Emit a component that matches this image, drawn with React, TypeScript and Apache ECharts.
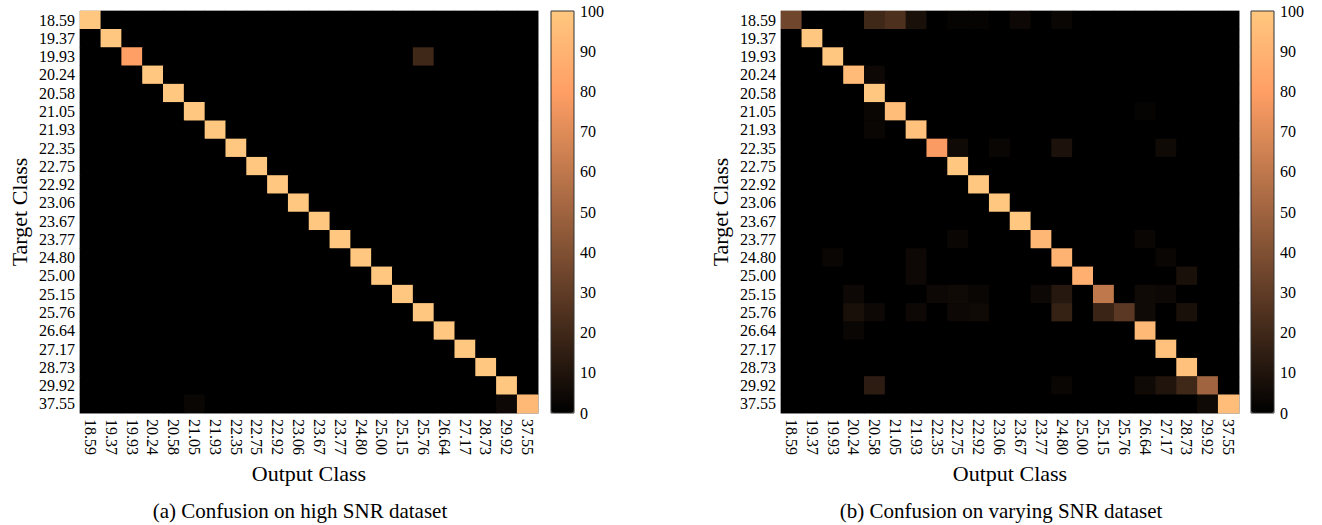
import React, { useEffect, useRef } from "react";
import * as echarts from "echarts";

const classes = [
  "18.59", "19.37", "19.93", "20.24", "20.58", "21.05", "21.93", "22.35", "22.75", "22.92", "23.06",
  "23.67", "23.77", "24.80", "25.00", "25.15", "25.76", "26.64", "27.17", "28.73", "29.92", "37.55",
];

// (a) high SNR: diagonal values and off-diagonal [row, col, value]
const highDiag = [100, 100, 80, 100, 100, 100, 100, 100, 100, 100, 100, 100, 100, 100, 100, 100, 100, 100, 100, 100, 100, 93];
const highOff: [number, number, number][] = [
  [2, 16, 20],
  [21, 5, 3],
  [21, 20, 4],
];

// (b) varying SNR
const varyDiag = [35, 100, 100, 94, 100, 95, 97, 78, 100, 100, 100, 100, 92, 90, 88, 60, 28, 93, 97, 97, 50, 95];
const varyOff: [number, number, number][] = [
  [0, 4, 20], [0, 5, 24], [0, 6, 8], [0, 8, 2], [0, 9, 2], [0, 11, 4], [0, 13, 3],
  [3, 4, 4],
  [5, 4, 3], [5, 17, 2],
  [6, 4, 3],
  [7, 8, 5], [7, 10, 3], [7, 13, 9], [7, 18, 5],
  [12, 8, 3], [12, 17, 3],
  [13, 2, 3], [13, 6, 4], [13, 18, 3],
  [14, 6, 4], [14, 19, 8],
  [15, 3, 4], [15, 7, 4], [15, 8, 5], [15, 9, 3], [15, 12, 4], [15, 13, 12], [15, 17, 5], [15, 18, 4],
  [16, 3, 8], [16, 4, 4], [16, 6, 4], [16, 8, 4], [16, 9, 5], [16, 13, 17], [16, 15, 18], [16, 17, 5], [16, 19, 8],
  [17, 3, 3],
  [20, 4, 14], [20, 13, 3], [20, 17, 5], [20, 18, 10], [20, 19, 20],
  [21, 20, 5],
];

const colorMin = 0;
const colorMax = 100;
const colorStep = 10;

// copper colormap stops (evenly spaced 0..1)
const copper = ["#000000", "#402819", "#805033", "#bf784c", "#ff9f65", "#ffc77f"];

const captions = ["(a) Confusion on high SNR dataset", "(b) Confusion on varying SNR dataset"];

function buildMatrix(diag: number[], off: [number, number, number][]) {
  const n = classes.length;
  const out: number[][] = [];
  for (let r = 0; r < n; r++) for (let c = 0; c < n; c++) out.push([c, r, r === c ? diag[r] : 0]);
  off.forEach(([r, c, v]) => {
    out[r * n + c][2] = v;
  });
  return out;
}

const FONT = "Liberation Serif";
const TICK = "#9c5a24";
const FRAME = "#b4b4b4";

export default function App() {
  const ref = useRef<HTMLDivElement>(null);
  useEffect(() => {
    if (!ref.current) return;
    const chart = echarts.init(ref.current, null, { renderer: "svg" });
    const G = [
      { left: 80, top: 11, width: 458, height: 402, show: true, backgroundColor: "#000", borderColor: FRAME, borderWidth: 1 },
      { left: 781, top: 11, width: 458, height: 402, show: true, backgroundColor: "#000", borderColor: FRAME, borderWidth: 1 },
    ];
    const CB = [
      { left: 551, top: 11, width: 23, height: 402 },
      { left: 1251, top: 11, width: 23, height: 402 },
    ];
    const xAxes: any[] = [];
    const yAxes: any[] = [];
    G.forEach((_, gi) => {
      xAxes.push({
        type: "category", gridIndex: gi, data: classes, position: "bottom",
        axisLine: { show: true, lineStyle: { color: FRAME, width: 1 } },
        axisTick: { show: true, inside: true, alignWithLabel: true, length: 5, lineStyle: { color: TICK } },
        axisLabel: { rotate: -90, fontFamily: FONT, fontSize: 16, color: "#000", margin: 6, interval: 0 },
        splitLine: { show: false },
        name: "Output Class", nameLocation: "middle", nameGap: 49,
        nameTextStyle: { fontFamily: FONT, fontSize: 22, color: "#000" },
      });
      xAxes.push({
        type: "category", gridIndex: gi, data: classes, position: "top",
        axisLine: { show: true, lineStyle: { color: FRAME, width: 1 } },
        axisTick: { show: true, inside: true, alignWithLabel: true, length: 5, lineStyle: { color: TICK } },
        axisLabel: { show: false }, splitLine: { show: false },
      });
      yAxes.push({
        type: "category", gridIndex: gi, data: classes, inverse: true, position: "left",
        axisLine: { show: true, lineStyle: { color: FRAME, width: 1 } },
        axisTick: { show: true, inside: true, alignWithLabel: true, length: 5, lineStyle: { color: TICK } },
        axisLabel: { fontFamily: FONT, fontSize: 16, color: "#000", margin: 5, interval: 0 },
        splitLine: { show: false },
        name: "Target Class", nameLocation: "middle", nameGap: 50, nameRotate: 90,
        nameTextStyle: { fontFamily: FONT, fontSize: 22, color: "#000" },
      });
      yAxes.push({
        type: "category", gridIndex: gi, data: classes, inverse: true, position: "right",
        axisLine: { show: true, lineStyle: { color: FRAME, width: 1 } },
        axisTick: { show: true, inside: true, alignWithLabel: true, length: 5, lineStyle: { color: TICK } },
        axisLabel: { show: false }, splitLine: { show: false },
      });
    });
    CB.forEach((_, ci) => {
      const gi = 2 + ci;
      xAxes.push({ type: "value", gridIndex: gi, show: false, min: 0, max: 1 });
      yAxes.push({
        type: "value", gridIndex: gi, min: colorMin, max: colorMax, interval: colorStep, position: "right",
        axisLine: { show: false }, axisTick: { show: false }, splitLine: { show: false },
        axisLabel: { fontFamily: FONT, fontSize: 16, color: "#000", margin: 6 },
      });
    });

    const option: any = {
      animation: false,
      grid: [...G, ...CB],
      xAxis: xAxes,
      yAxis: yAxes,
      visualMap: CB.map((c, i) => ({
        type: "continuous", seriesIndex: i, min: colorMin, max: colorMax,
        calculable: false, hoverLink: false, realtime: false,
        left: c.left, top: c.top, itemWidth: c.width, itemHeight: c.height, padding: 0,
        orient: "vertical", text: null, showLabel: false,
        inRange: { color: copper },
      })),
      series: [
        {
          type: "heatmap", xAxisIndex: 0, yAxisIndex: 0,
          data: buildMatrix(highDiag, highOff),
          itemStyle: { borderWidth: 0 }, emphasis: { disabled: true }, progressive: 0,
        },
        {
          type: "heatmap", xAxisIndex: 2, yAxisIndex: 2,
          data: buildMatrix(varyDiag, varyOff),
          itemStyle: { borderWidth: 0 }, emphasis: { disabled: true }, progressive: 0,
        },
      ],
      graphic: [
        ...CB.map((c) => ({
          type: "rect", z: 100, silent: true,
          shape: { x: c.left, y: c.top, width: c.width, height: c.height },
          style: { fill: "none", stroke: "#333", lineWidth: 1 },
        })),
        ...captions.map((t, i) => ({
          type: "text", x: i === 0 ? 300 : 1001, y: 511, silent: true,
          style: {
            text: t, fontFamily: FONT, fontSize: 21, fill: "#000",
            align: "center", verticalAlign: "middle", textAlign: "center", textVerticalAlign: "middle",
          },
        })),
      ],
    };
    chart.setOption(option);
    return () => chart.dispose();
  }, []);
  return (
    <div
      ref={ref}
      style={{ position: "fixed", left: 0, top: 0, width: 1322, height: 525, background: "#fff" }}
    />
  );
}
